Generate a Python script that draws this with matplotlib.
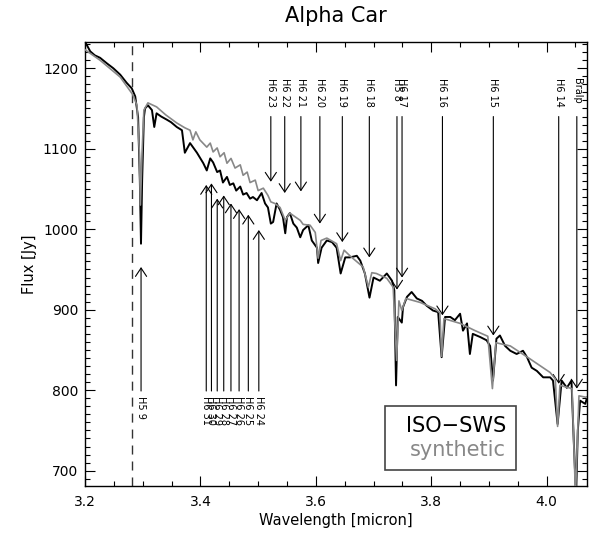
import matplotlib
matplotlib.use('Agg')
import matplotlib.pyplot as plt
from matplotlib.patches import Rectangle
from matplotlib.ticker import MultipleLocator

# ISO-SWS spectrum (black)
iso_wave = [3.200, 3.209, 3.217, 3.226, 3.238, 3.249, 3.261, 3.272, 3.281, 3.287,
            3.292, 3.295, 3.297, 3.299, 3.302, 3.304, 3.309, 3.316, 3.320, 3.324,
            3.332, 3.342, 3.349, 3.359, 3.368, 3.373, 3.382, 3.394, 3.405, 3.411,
            3.417, 3.422, 3.429, 3.434, 3.439, 3.446, 3.451, 3.457, 3.462, 3.469,
            3.474, 3.480, 3.486, 3.491, 3.498, 3.506, 3.512, 3.517, 3.522, 3.526,
            3.532, 3.538, 3.543, 3.547, 3.550, 3.555, 3.561, 3.567, 3.573, 3.578,
            3.587, 3.593, 3.602, 3.604, 3.610, 3.619, 3.628, 3.636, 3.643, 3.651,
            3.659, 3.671, 3.677, 3.685, 3.693, 3.700, 3.711, 3.723, 3.732, 3.736,
            3.739, 3.742, 3.749, 3.751, 3.758, 3.766, 3.775, 3.784, 3.792, 3.803,
            3.812, 3.818, 3.824, 3.833, 3.841, 3.850, 3.855, 3.862, 3.867, 3.872,
            3.885, 3.896, 3.902, 3.907, 3.913, 3.919, 3.928, 3.937, 3.948, 3.959,
            3.966, 3.974, 3.983, 3.994, 4.006, 4.011, 4.019, 4.026, 4.035, 4.043,
            4.047, 4.051, 4.054, 4.058, 4.067, 4.070]
iso_flux = [1233, 1221, 1216, 1213, 1206, 1200, 1192, 1182, 1175, 1165,
            1139, 1061, 982, 1061, 1139, 1150, 1154, 1148, 1127, 1144,
            1140, 1136, 1133, 1127, 1123, 1095, 1107, 1095, 1082, 1073,
            1088, 1083, 1071, 1073, 1058, 1065, 1055, 1057, 1048, 1053,
            1043, 1045, 1038, 1040, 1036, 1045, 1032, 1027, 1007, 1009,
            1032, 1024, 1015, 995, 1015, 1020, 1007, 1002, 990, 999,
            1005, 986, 977, 958, 977, 986, 984, 977, 945, 965,
            965, 967, 961, 945, 915, 940, 936, 945, 936, 924,
            806, 891, 884, 903, 916, 922, 914, 911, 905, 899,
            897, 841, 891, 891, 887, 895, 874, 883, 845, 870,
            866, 862, 855, 812, 864, 868, 855, 849, 845, 849,
            841, 828, 824, 816, 816, 812, 758, 812, 803, 812,
            737, 668, 750, 787, 783, 791]

# synthetic spectrum (grey)
syn_wave = [3.200, 3.226, 3.261, 3.283, 3.290, 3.294, 3.296, 3.299, 3.302, 3.309,
            3.324, 3.340, 3.359, 3.373, 3.382, 3.387, 3.392, 3.399, 3.411, 3.417,
            3.422, 3.429, 3.434, 3.441, 3.446, 3.453, 3.460, 3.469, 3.474, 3.481,
            3.486, 3.495, 3.500, 3.509, 3.517, 3.522, 3.529, 3.538, 3.547, 3.555,
            3.573, 3.578, 3.590, 3.599, 3.604, 3.609, 3.619, 3.636, 3.643, 3.649,
            3.659, 3.682, 3.691, 3.697, 3.705, 3.723, 3.734, 3.740, 3.744, 3.749,
            3.756, 3.781, 3.807, 3.815, 3.818, 3.822, 3.850, 3.876, 3.898, 3.906,
            3.912, 3.937, 3.971, 4.006, 4.015, 4.019, 4.023, 4.044, 4.050, 4.056,
            4.070]
syn_flux = [1223, 1210, 1189, 1167, 1154, 1098, 1030, 1098, 1148, 1157,
            1152, 1142, 1132, 1126, 1123, 1111, 1121, 1111, 1102, 1107,
            1096, 1101, 1090, 1095, 1082, 1088, 1076, 1080, 1067, 1071,
            1058, 1061, 1048, 1051, 1042, 1034, 1032, 1027, 1011, 1020,
            1011, 1006, 1005, 996, 964, 986, 989, 982, 961, 974,
            967, 953, 928, 946, 945, 939, 928, 837, 911, 899,
            914, 909, 901, 896, 842, 889, 883, 874, 867, 802,
            859, 855, 839, 822, 814, 755, 806, 802, 669, 793,
            791]

# line identifications above the spectrum (arrows pointing down)
top_names = ['H6 23', 'H6 22', 'H6 21', 'H6 20', 'H6 19', 'H6 18', 'H5 8', 'H6 17',
             'H6 16', 'H6 15', 'H6 14', 'Bralp']
top_wave = [3.5220, 3.5461, 3.5741, 3.6070, 3.6459, 3.6927, 3.7406, 3.7494,
            3.8194, 3.9076, 4.0209, 4.0523]
top_tip = [1059, 1045, 1047, 1007, 984, 965, 925, 940, 893, 868, 808, 802]

# line identifications below the spectrum (arrows pointing up)
low_names = ['H5 9', 'H6 31', 'H6 30', 'H6 29', 'H6 28', 'H6 27', 'H6 26', 'H6 25', 'H6 24']
low_wave = [3.2971, 3.4101, 3.4191, 3.4291, 3.4404, 3.4529, 3.4670, 3.4830, 3.5012]
low_tip = [953, 1055, 1057, 1038, 1042, 1032, 1025, 1018, 999]

dash_wave = 3.2815

fig = plt.figure(figsize=(6.0, 5.33), dpi=100)
ax = fig.add_axes([0.1417, 0.0882, 0.8367, 0.8336])

ax.plot(iso_wave, iso_flux, color='black', lw=1.4, zorder=3)
ax.plot(syn_wave, syn_flux, color='#888888', lw=1.2, zorder=4)
ax.axvline(dash_wave, color='#333333', lw=1.0, dashes=(6.5, 5))

arrow = dict(arrowstyle='->,head_length=0.6,head_width=0.4', lw=0.8, color='black',
             shrinkA=0, shrinkB=0, mutation_scale=10)
for name, w, tip in zip(top_names, top_wave, top_tip):
    ax.annotate('', xy=(w, tip), xytext=(w, 1140), arrowprops=arrow)
    ax.text(w, 1188, name, rotation=270, ha='center', va='top', fontsize=7)
for name, w, tip in zip(low_names, low_wave, low_tip):
    ax.annotate('', xy=(w, tip), xytext=(w, 799), arrowprops=arrow)
    ax.text(w, 793, name, rotation=270, ha='center', va='top', fontsize=7)

ax.set_xlim(3.2, 4.07)
ax.set_ylim(681, 1233)
ax.xaxis.set_major_locator(MultipleLocator(0.2))
ax.xaxis.set_minor_locator(MultipleLocator(0.05))
ax.yaxis.set_major_locator(MultipleLocator(100))
ax.yaxis.set_minor_locator(MultipleLocator(10))
ax.xaxis.set_major_formatter(matplotlib.ticker.FormatStrFormatter('%.1f'))
ax.tick_params(which='both', direction='in', top=True, right=True, labelsize=10)
ax.tick_params(which='major', length=7, width=0.8)
ax.tick_params(which='minor', length=3.5, width=0.8)
ax.tick_params(axis='x', pad=6.5)
ax.tick_params(axis='y', pad=5)
for s in ax.spines.values():
    s.set_linewidth(1.0)

ax.set_xlabel('Wavelength [micron]', fontsize=10.5, labelpad=3)
ax.set_ylabel('Flux [Jy]', fontsize=10.5, labelpad=4)
ax.set_title('Alpha Car', fontsize=15, pad=14)

# legend box
ax.add_patch(Rectangle((0.598, 0.036), 0.261, 0.144, transform=ax.transAxes,
                       fill=False, edgecolor='#444444', lw=1.2, zorder=5))
ax.text(0.839, 0.1215, 'ISO\u2212SWS', transform=ax.transAxes, ha='right',
        va='baseline', fontsize=15, color='black')
ax.text(0.839, 0.068, 'synthetic', transform=ax.transAxes, ha='right',
        va='baseline', fontsize=15, color='#888888')

plt.savefig('out.png', dpi=100)
